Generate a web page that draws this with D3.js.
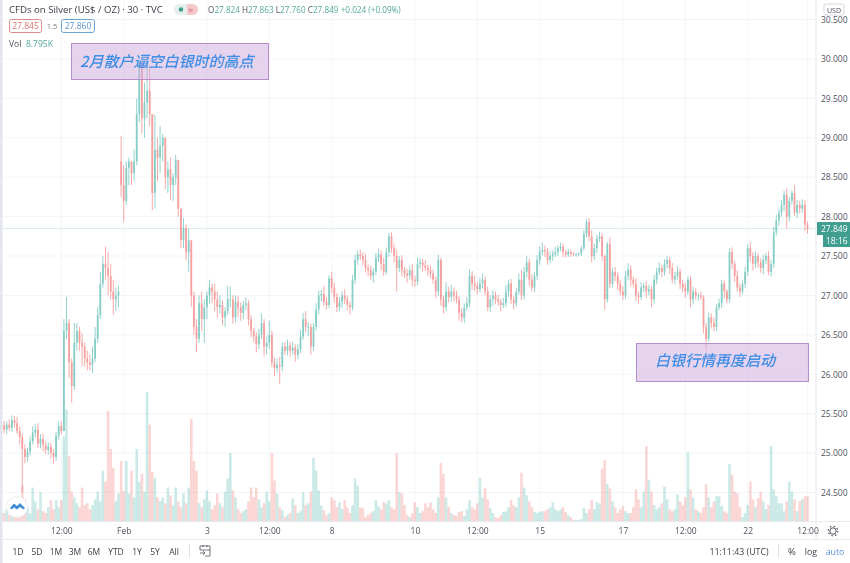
<!DOCTYPE html>
<html>
<head>
<meta charset="utf-8">
<script src="https://cdnjs.cloudflare.com/ajax/libs/d3/7.8.5/d3.min.js"></script>
<style>
  html, body { margin: 0; padding: 0; background: #fff; }
  svg { display: block; filter: blur(0.3px); }
  text { font-family: "Open Sans", sans-serif; }
  .candles { filter: blur(0.45px); }
  .volume { filter: blur(0.6px); }
</style>
</head>
<body>
<div id="chart-container"></div>
<script>
// silver 30 min candles, every value
const closes = [
  25.35,25.30,25.36,25.32,25.42,25.38,25.28,25.20,25.05,24.95,
  25.02,25.15,25.26,25.30,25.12,25.18,25.10,25.04,25.08,25.00,
  24.95,25.22,25.34,25.28,26.55,26.65,26.15,25.85,26.40,26.55,
  26.40,26.35,26.20,26.15,26.12,26.20,26.45,26.75,27.15,27.40,
  27.35,27.25,27.05,26.95,27.00,27.05,28.40,28.20,28.62,28.70,
  28.55,28.70,29.30,29.95,29.25,29.45,29.60,29.30,28.30,28.85,
  28.75,28.90,29.00,28.50,28.60,28.40,28.50,28.72,28.10,27.70,
  27.85,27.55,27.70,27.00,26.60,26.45,26.90,26.70,26.85,27.00,
  27.10,27.05,26.95,26.85,26.88,26.72,26.80,26.95,26.95,26.72,
  26.92,26.85,26.78,26.88,26.90,26.70,26.55,26.48,26.38,26.50,
  26.65,26.35,26.40,26.50,26.15,26.08,26.12,26.10,26.35,26.30,
  26.36,26.30,26.34,26.25,26.32,26.48,26.70,26.60,26.60,26.35,
  26.60,26.82,27.00,27.02,26.92,26.88,27.22,27.10,26.98,26.85,
  26.92,27.00,26.95,26.88,26.85,27.20,27.45,27.52,27.50,27.45,
  27.35,27.32,27.25,27.30,27.48,27.52,27.40,27.30,27.55,27.75,
  27.60,27.50,27.35,27.45,27.32,27.28,27.25,27.32,27.20,27.18,
  27.40,27.42,27.38,27.35,27.32,27.28,27.20,27.05,27.45,26.95,
  26.85,27.05,26.98,27.05,27.00,26.95,26.78,26.72,26.85,26.90,
  27.25,27.15,27.12,27.08,27.15,27.20,27.05,26.85,26.95,27.00,
  26.95,26.92,26.88,26.90,27.05,27.15,26.95,26.90,27.05,27.20,
  27.00,27.30,27.42,27.20,27.10,27.25,27.45,27.55,27.58,27.56,
  27.45,27.50,27.52,27.55,27.60,27.62,27.55,27.52,27.55,27.53,
  27.52,27.52,27.53,27.60,27.78,27.93,27.75,27.50,27.60,27.72,
  27.75,27.50,26.95,27.65,27.15,27.30,27.25,27.15,27.05,27.00,
  27.25,27.33,27.20,27.15,27.00,26.98,27.10,27.12,27.05,27.08,
  26.95,27.20,27.30,27.35,27.30,27.40,27.45,27.35,27.20,27.25,
  27.30,27.15,27.10,27.05,27.20,26.95,27.05,27.00,27.00,26.98,
  26.60,26.45,26.72,26.65,26.60,26.85,26.90,27.15,27.05,26.95,
  27.55,27.40,27.25,27.10,27.05,27.15,27.30,27.60,27.50,27.40,
  27.50,27.42,27.35,27.45,27.50,27.30,27.40,27.80,27.95,28.05,
  28.15,28.28,28.00,28.20,28.30,28.05,28.15,28.10,28.15,27.90,27.849
];
// wick above / below the body, in cents
const upperWicks = [
  5,6,4,7,6,5,8,6,5,6, 5,6,8,7,8,6,7,5,6,5, 5,5,6,6,15,33,5,5,25,10,
  5,12,5,10,10,15,15,10,15,10, 22,20,15,15,10,7,32,25,8,5, 0,15,20,7,2,25,35,32,0,44,
  15,25,5,0,10,15,5,6,0,0, 13,5,15,0,5,10,10,15,10,5, 10,5,10,10,12,6,5,17,16,5,
  8,7,6,5,8,4,5,4,5,8, 12,5,8,18,5,6,8,10,5,6, 8,5,7,4,6,8,8,10,6,4,
  5,8,6,5,10,6,4,8,6,5, 6,5,8,5,4,6,7,5,6,5, 8,4,6,5,6,7,5,8,6,4,
  5,6,8,5,6,4,6,5,8,5, 8,6,5,7,4,6,5,4,7,3, 5,12,6,8,5,6,4,6,5,8,
  8,6,10,5,7,8,4,6,5,7, 5,6,4,7,8,5,6,4,5,8, 12,6,8,5,7,5,6,7,9,5,
  4,6,5,7,4,5,4,3,4,3, 2,2,2,3,5,4,5,8,6,5, 6,4,2,3,8,5,6,4,5,7,
  6,8,5,4,6,5,7,4,6,5, 4,6,5,7,4,6,5,4,6,5, 7,4,5,6,4,5,6,4,3,5,
  2,5,6,5,7,4,6,5,4,3, 5,6,4,7,5,4,6,5,8,5, 6,4,5,7,4,6,5,7,8,5,
  6,5,8,5,3,10,6,5,7,6,4
];
const lowerWicks = [
  4,5,6,4,5,6,4,8,55,8, 6,5,4,6,5,6,8,5,6,7, 8,5,5,4,0,10,20,21,5,10,
  10,25,10,10,7,10,5,5,5,5, 15,25,10,20,15,15,15,27,5,22, 15,10,5,10,20,25,20,15,22,20,
  30,20,20,15,20,19,20,10,10,10, 10,10,25,15,10,17,5,15,30,15, 10,15,15,13,8,10,12,5,10,8,
  6,12,10,8,6,8,8,7,10,6, 5,12,10,8,6,10,6,22,6,5, 6,8,5,9,6,5,4,7,12,10,
  5,4,6,8,5,6,4,7,8,6, 5,8,6,7,9,4,5,6,5,7, 6,8,5,9,4,6,8,5,4,6,
  6,8,30,5,8,6,9,5,8,7, 5,6,8,4,7,6,5,8,6,8, 8,5,7,6,8,5,10,6,7,4,
  5,8,6,7,4,6,5,5,6,8, 6,5,8,4,5,7,6,8,5,4, 6,5,7,8,5,6,5,6,4,7,
  6,4,6,3,5,4,6,4,3,4, 2,3,2,3,3,4,6,8,5,6, 4,6,13,4,6,5,7,8,5,6,
  4,6,8,5,7,8,4,6,8,5, 10,5,6,4,7,5,6,8,5,6, 5,7,6,8,4,10,6,5,7,4,
  8,15,4,7,6,5,4,6,8,5, 4,6,8,5,7,4,6,5,7,8, 5,7,6,8,5,4,6,5,4,7,
  5,8,15,6,5,4,7,6,5,8,6
];
// volume in K
const volumes = [
  3.5,2.8,4.2,2.1,3.2,4.9,3.9,2.5,12.6,7.7,
  4.9,2.8,11.9,7,4.2,10.2,3.5,2.8,4.9,7.4,
  4.2,7.4,4.9,7.4,30.1,39.6,23.1,10.5,8.4,6.3,
  4.9,11.9,5.6,6.3,4.2,5.6,7.7,10.5,7,17.9,
  14,39.2,25.6,18.9,7,9.8,21.4,10.5,21.4,9.8,
  17.9,8.4,25.6,14,16.8,10.5,45.9,34.3,17.5,15.4,
  8.4,7,8.4,6.3,11.9,9.1,5.6,11.9,7,4.9,
  9.8,6.3,11.9,36.4,21.4,17.9,6.3,4.9,7.7,10.9,
  7,4.2,5.6,9.8,6.3,4.9,10.5,15.1,24.2,10.9,
  8.4,4.2,2.8,3.5,4.2,7,11.9,8.4,11.9,7.7,
  4.9,6.3,10.5,7,24.2,14.4,9.8,4.9,3.9,1.4,
  2.1,2.8,8.1,5.6,2.8,3.5,10.2,5.6,6.3,10.5,
  22.4,17.9,10.9,5.6,3.9,2.1,2.8,8.4,7.4,4.9,
  6.7,4.2,7.4,4.9,2.8,5.6,15.1,12.6,4.9,4.6,
  1.4,2.1,2.8,3.5,7.4,5.3,4.2,6.7,6.3,7.4,
  4.9,4.2,24.2,10.2,9.8,5.6,2.1,1.4,2.8,6.7,
  4.9,2.8,3.5,6.3,4.9,6.7,4.2,2.8,8.4,20.7,
  16.8,8.4,4.9,2.8,2.1,1.8,3.2,3.5,1.8,4.2,
  7.4,4.9,4.2,6.3,15.4,8.4,11.6,7.7,4.6,2.8,
  1.4,1,2.1,3.2,3.5,4.9,7.4,5.6,4.9,8.4,
  17.2,11.9,9.1,7,4.9,3.2,2.8,3.2,3.5,3.5,
  4.2,4.9,6.7,4.2,3.5,4.2,4.9,3.2,2.1,1.4,
  0.4,0.4,0.4,0.7,4.6,2.8,4.2,7.4,4.2,6.7,
  6.3,18.6,21.7,13.3,11.6,7,4.9,2.8,4.2,5.3,
  3.5,2.8,2.8,4.9,11.2,7.7,4.9,10.5,26.6,14.7,
  10.5,5.6,4.2,4.9,6.3,12.3,7.7,4.2,3.5,4.2,
  9.5,7,5.6,8.4,24.5,11.2,8.4,4.2,3.5,2.8,
  4.9,13,8.4,4.9,7,8.8,8.8,5.3,3.5,2.8,
  20.3,16.5,10.5,9.8,4.9,1.4,2.8,5.6,14,7.7,
  4.9,8.1,10.5,7,4.2,5.6,26.6,11.2,8.8,6.3,
  6.3,3.5,7,14,10.5,7.7,3.5,7,7.7,8.8,8.795
];
// the weekend gap: this bar does not open at the previous close
const gapBars = [46];
const gapOpens = [28.70];

const priceTicks = [30.5,30,29.5,29,28.5,28,27.5,27,26.5,26,25.5,25,24.5];
const timeTickBars = [23,47,79,103,127,159,183,207,239,263,287,310];
const timeTickLabels = ["12:00","Feb","3","12:00","8","10","12:00","15","17","12:00","22","12:00"];
const rangeButtons = ["1D","5D","1M","3M","6M","YTD","1Y","5Y","All"];
const rangeButtonX = [18,37,56,75,94,116,137,155,174];
const lastPrice = 27.849;

const svgWidth = 850;
const svgHeight = 563;
const plotRight = 816;
const volBase = 521;

const upColor = "#26a69a";
const downColor = "#ef5350";

const svg = d3.select("#chart-container")
    .append("svg")
    .attr("width", svgWidth)
    .attr("height", svgHeight);

const x = d3.scaleLinear().domain([0, closes.length - 1]).range([1.5, 807.5]);
const y = d3.scaleLinear().domain([30, 24.5]).range([59, 492.5]);
const yVol = d3.scaleLinear().domain([0, 45.9]).range([volBase, 392]);

const bars = closes.map(function (c, i) {
    const g = gapBars.indexOf(i);
    const o = g >= 0 ? gapOpens[g] : (i === 0 ? c - 0.02 : closes[i - 1]);
    return {
        i: i,
        open: o,
        close: c,
        high: Math.max(o, c) + upperWicks[i] / 100,
        low: Math.min(o, c) - lowerWicks[i] / 100,
        vol: volumes[i],
        color: c >= o ? upColor : downColor
    };
});

// grid
svg.append("g").selectAll("line").data(priceTicks).join("line")
    .attr("x1", 3).attr("x2", plotRight)
    .attr("y1", d => y(d)).attr("y2", d => y(d))
    .attr("stroke", "#f3f5f9");
svg.append("g").selectAll("line").data(timeTickBars).join("line")
    .attr("x1", d => x(d)).attr("x2", d => x(d))
    .attr("y1", 0).attr("y2", volBase)
    .attr("stroke", "#f3f5f9");

// volume
svg.append("g").attr("class", "volume").selectAll("rect").data(bars).join("rect")
    .attr("x", d => x(d.i) - 1.3)
    .attr("width", 2.6)
    .attr("y", d => yVol(d.vol))
    .attr("height", d => volBase - yVol(d.vol))
    .attr("fill", d => d.color)
    .attr("opacity", 0.24);

// last price line
svg.append("line")
    .attr("x1", 3).attr("x2", plotRight)
    .attr("y1", y(lastPrice)).attr("y2", y(lastPrice))
    .attr("stroke", "#dcecea");

// candles
const candles = svg.append("g").attr("class", "candles").attr("opacity", 0.55);
candles.selectAll("line").data(bars).join("line")
    .attr("x1", d => x(d.i)).attr("x2", d => x(d.i))
    .attr("y1", d => y(d.high)).attr("y2", d => y(d.low))
    .attr("stroke", d => d.color)
    .attr("stroke-width", 0.9);
candles.selectAll("rect").data(bars).join("rect")
    .attr("x", d => x(d.i) - 0.9)
    .attr("width", 1.8)
    .attr("y", d => y(Math.max(d.open, d.close)))
    .attr("height", d => Math.max(0.8, Math.abs(y(d.open) - y(d.close))))
    .attr("fill", d => d.color);

// frame lines
svg.append("rect").attr("x", 0).attr("y", 0).attr("width", 2.5).attr("height", svgHeight).attr("fill", "#e3e5ee");
svg.append("rect").attr("x", plotRight).attr("y", 0).attr("width", svgWidth - plotRight).attr("height", 540).attr("fill", "#fff");
svg.append("line").attr("x1", plotRight).attr("x2", plotRight).attr("y1", 0).attr("y2", 540).attr("stroke", "#e6e8ef");
svg.append("line").attr("x1", 3).attr("x2", svgWidth).attr("y1", volBase + 0.5).attr("y2", volBase + 0.5).attr("stroke", "#e6e8ef");
svg.append("line").attr("x1", 3).attr("x2", svgWidth).attr("y1", 539.5).attr("y2", 539.5).attr("stroke", "#e6e8ef");

// axes
const priceAxis = d3.axisRight(y)
    .tickValues(priceTicks)
    .tickFormat(d3.format(".3f"))
    .tickSize(0)
    .tickPadding(0);
const gy = svg.append("g")
    .attr("transform", `translate(${plotRight + 5},0)`)
    .call(priceAxis);
gy.select(".domain").remove();
gy.selectAll("text").style("font-size", "8.5px").attr("fill", "#50535e");

const timeAxis = d3.axisBottom(x)
    .tickValues(timeTickBars)
    .tickFormat((d, i) => timeTickLabels[i])
    .tickSize(0)
    .tickPadding(0);
const gx = svg.append("g")
    .attr("transform", `translate(0,${volBase + 7})`)
    .call(timeAxis);
gx.select(".domain").remove();
gx.selectAll("text").style("font-size", "8.5px").attr("fill", "#50535e");

// last price and countdown tags
const tagColor = "#3f9e8f";
const lastY = y(lastPrice);
svg.append("rect").attr("x", 817).attr("y", lastY - 6.5).attr("width", 33).attr("height", 13).attr("fill", tagColor);
svg.append("text").text("27.849").attr("x", 821).attr("y", lastY + 3)
    .attr("fill", "#fff").style("font-size", "8.5px");
svg.append("rect").attr("x", 823).attr("y", lastY + 6.5).attr("width", 27).attr("height", 12).attr("fill", tagColor);
svg.append("text").text("18:16").attr("x", 826).attr("y", lastY + 15.5)
    .attr("fill", "#fff").style("font-size", "8.5px");

// USD button
svg.append("rect").attr("x", 824).attr("y", 4).attr("width", 20).attr("height", 11).attr("rx", 2)
    .attr("fill", "#fff").attr("stroke", "#d6d8e0");
svg.append("text").text("USD").attr("x", 834).attr("y", 12.5).attr("text-anchor", "middle")
    .attr("fill", "#50535e").style("font-size", "7px");

// legend
svg.append("text").text("CFDs on Silver (US$ / OZ) · 30 · TVC").attr("x", 9).attr("y", 13)
    .attr("fill", "#3a3d47").style("font-size", "9.6px");
svg.append("rect").attr("x", 174).attr("y", 4).attr("width", 24).attr("height", 11).attr("rx", 5.5).attr("fill", "#e6eeee");
svg.append("path").attr("d", "M187 4h5.500a5.500 5.500 0 0 1 0 11h-5.500z").attr("fill", "#f6c9cc");
svg.append("circle").attr("cx", 181).attr("cy", 9.5).attr("r", 2.2).attr("fill", "#3f9e8f");
svg.append("text").text("≈").attr("x", 191).attr("y", 12.5).attr("text-anchor", "middle")
    .attr("fill", "#b5555f").style("font-size", "8.5px");

const ohlcText = svg.append("text").attr("x", 208).attr("y", 13).style("font-size", "8.2px").attr("fill", "#53a99b");
[["O",1],["27.824 ",0],["H",1],["27.863 ",0],["L",1],["27.760 ",0],["C",1],["27.849 ",0],["+0.024 (+0.09%)",0]]
    .forEach(function (p) {
        ohlcText.append("tspan").text(p[0]).attr("fill", p[1] ? "#50535e" : "#53a99b").attr("xml:space", "preserve");
    });

svg.append("rect").attr("x", 9.5).attr("y", 19.5).attr("width", 32).attr("height", 13).attr("rx", 2)
    .attr("fill", "#fff").attr("stroke", "#e08a8a");
svg.append("text").text("27.845").attr("x", 25.5).attr("y", 29).attr("text-anchor", "middle")
    .attr("fill", "#d9716f").style("font-size", "8.5px");
svg.append("text").text("1.5").attr("x", 52).attr("y", 29).attr("text-anchor", "middle")
    .attr("fill", "#787b86").style("font-size", "7.5px");
svg.append("rect").attr("x", 61.5).attr("y", 19.5).attr("width", 33).attr("height", 13).attr("rx", 2)
    .attr("fill", "#fff").attr("stroke", "#6aa6d8");
svg.append("text").text("27.860").attr("x", 78).attr("y", 29).attr("text-anchor", "middle")
    .attr("fill", "#5b93c8").style("font-size", "8.5px");
svg.append("text").text("Vol").attr("x", 9).attr("y", 47).attr("fill", "#50535e").style("font-size", "8.5px");
svg.append("text").text("8.795K").attr("x", 26).attr("y", 47).attr("fill", "#53a99b").style("font-size", "8.5px");

// annotation boxes
const noteFont = '"Noto Sans CJK SC", sans-serif';
function note(bx, by, bw, bh, label, tx, ty) {
    svg.append("rect").attr("x", bx + 0.5).attr("y", by + 0.5).attr("width", bw).attr("height", bh)
        .attr("fill", "#d2aee0").attr("fill-opacity", 0.55)
        .attr("stroke", "#b88dcc");
    svg.append("text").text(label).attr("x", tx).attr("y", ty)
        .attr("fill", "#3f8ee6")
        .style("font-family", noteFont)
        .style("font-style", "italic")
        .style("font-weight", 500)
        .style("font-size", "15px");
}
note(71, 43, 197, 36, "2月散户逼空白银时的高点", 80, 67);
note(636, 343, 172, 38, "白银行情再度启动", 655, 366);

// logo
svg.append("circle").attr("cx", 17).attr("cy", 507).attr("r", 10.5).attr("fill", "#fff").attr("stroke", "#eceef3");
svg.append("path").attr("d", "M10 508l4-4.500 3 2.500 3-3 5 5-1.500 1.500-3.500-2.500-3 2.500-3-2-2.500 2z").attr("fill", "#3f8fd8");

// bottom bar
svg.append("g").selectAll("text").data(rangeButtons).join("text")
    .text(d => d)
    .attr("x", (d, i) => rangeButtonX[i])
    .attr("y", 555)
    .attr("text-anchor", "middle")
    .attr("fill", "#3a3d47")
    .style("font-size", "8.5px");
svg.append("line").attr("x1", 189.5).attr("x2", 189.5).attr("y1", 544).attr("y2", 558).attr("stroke", "#e0e3eb");
svg.append("path").attr("d", "M200 546h10v10h-5M200 546v4h10M203 545v2M207 545v2M200 553h5m-2-2l2 2-2 2")
    .attr("fill", "none").attr("stroke", "#50535e").attr("stroke-width", 0.8);
svg.append("text").text("11:11:43 (UTC)").attr("x", 739).attr("y", 555).attr("text-anchor", "middle")
    .attr("fill", "#3a3d47").style("font-size", "8.8px");
svg.append("line").attr("x1", 778.5).attr("x2", 778.5).attr("y1", 544).attr("y2", 558).attr("stroke", "#e0e3eb");
svg.append("text").text("%").attr("x", 792).attr("y", 555).attr("text-anchor", "middle")
    .attr("fill", "#3a3d47").style("font-size", "9.5px");
svg.append("text").text("log").attr("x", 811).attr("y", 555).attr("text-anchor", "middle")
    .attr("fill", "#3a3d47").style("font-size", "8.8px");
svg.append("text").text("auto").attr("x", 835).attr("y", 555).attr("text-anchor", "middle")
    .attr("fill", "#5b93d8").style("font-size", "8.8px");

// settings gear
svg.append("circle").attr("cx", 833).attr("cy", 531).attr("r", 3.2).attr("fill", "none").attr("stroke", "#50535e");
svg.append("circle").attr("cx", 833).attr("cy", 531).attr("r", 4.8).attr("fill", "none")
    .attr("stroke", "#50535e").attr("stroke-width", 1.2).attr("stroke-dasharray", "1.500 2.270");
</script>
</body>
</html>
